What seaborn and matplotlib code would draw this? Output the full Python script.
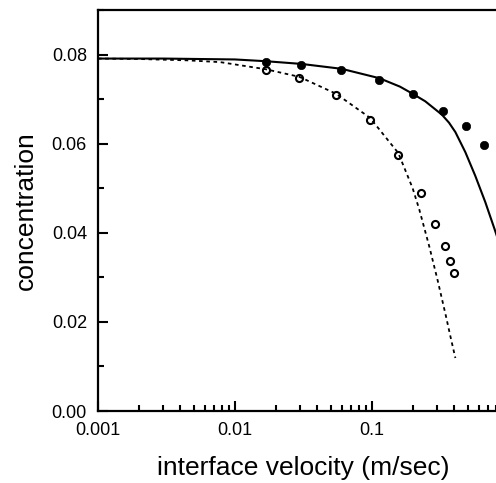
import matplotlib
matplotlib.use("Agg")
import matplotlib.pyplot as plt
from matplotlib.ticker import LogLocator, MultipleLocator, FixedFormatter, FixedLocator
import seaborn as sns
import pandas as pd

# measured points (filled = first series, open = second series)
v_filled = [0.0169, 0.0305, 0.0594, 0.113, 0.198, 0.331, 0.485, 0.653]
c_filled = [0.0784, 0.0776, 0.0765, 0.0744, 0.0712, 0.0674, 0.0639, 0.0597]

v_open = [0.0168, 0.0291, 0.0542, 0.0967, 0.1556, 0.2264, 0.290, 0.339, 0.371, 0.397]
c_open = [0.0765, 0.0747, 0.0710, 0.0653, 0.0575, 0.0490, 0.0419, 0.0370, 0.0336, 0.0310]

# model curves
v_solid = [0.001, 0.003, 0.01, 0.0169, 0.0305, 0.06, 0.113, 0.16, 0.198, 0.245, 0.324,
           0.365, 0.406, 0.480, 0.567, 0.671, 0.785, 0.925]
c_solid = [0.0791, 0.0791, 0.0789, 0.0785, 0.0779, 0.0768, 0.0747, 0.0728, 0.0712, 0.0695, 0.0665,
           0.0647, 0.0626, 0.0581, 0.0528, 0.0469, 0.0408, 0.0342]

v_dash = [0.001, 0.002, 0.0045, 0.0078, 0.0168, 0.0295, 0.0547, 0.0967, 0.1556, 0.198,
          0.2215, 0.262, 0.301, 0.347, 0.377, 0.406]
c_dash = [0.0791, 0.0790, 0.0787, 0.0783, 0.0767, 0.0750, 0.0712, 0.0658, 0.0579, 0.0500,
          0.0452, 0.0369, 0.0294, 0.0212, 0.0162, 0.0119]

sns.set_style("ticks")
plt.rcParams['font.family'] = ['Liberation Sans', 'DejaVu Sans']
plt.rcParams['text.color'] = 'black'
plt.rcParams['axes.labelcolor'] = 'black'

fig = plt.figure(figsize=(4.96, 4.83), dpi=100)
ax = fig.add_axes([98 / 496, 72 / 483, 411 / 496, 401 / 483])

solid = pd.DataFrame({"v": v_solid, "c": c_solid})
dash = pd.DataFrame({"v": v_dash, "c": c_dash})
filled = pd.DataFrame({"v": v_filled, "c": c_filled})
opn = pd.DataFrame({"v": v_open, "c": c_open})

sns.lineplot(data=solid, x="v", y="c", ax=ax, color="black", lw=1.5, sort=True)
sns.lineplot(data=dash, x="v", y="c", ax=ax, color="black", lw=1.3, sort=True,
             linestyle=(0, (2, 2)))
sns.scatterplot(data=filled, x="v", y="c", ax=ax, color="black", s=36,
                edgecolor="black", linewidth=0.5)
sns.scatterplot(data=opn, x="v", y="c", ax=ax, facecolor="white", s=26,
                edgecolor="black", linewidth=1.5)

ax.set_xscale("log")
ax.set_xlim(0.001, 1)
ax.set_ylim(0, 0.09)

ax.xaxis.set_major_locator(FixedLocator([0.001, 0.01, 0.1, 1]))
ax.xaxis.set_major_formatter(FixedFormatter(["0.001", "0.01", "0.1", ""]))
ax.xaxis.set_minor_locator(LogLocator(base=10, subs=range(2, 10)))
ax.yaxis.set_major_locator(MultipleLocator(0.02))
ax.yaxis.set_minor_locator(MultipleLocator(0.01))
ax.yaxis.set_major_formatter(plt.FuncFormatter(lambda y, p: f"{y:.2f}"))

ax.tick_params(which="both", direction="in", width=1.5, labelsize=13, pad=8,
               color="black", labelcolor="black")
ax.tick_params(which="major", length=7)
ax.tick_params(which="minor", length=4.3)
for s in ax.spines.values():
    s.set_linewidth(1.6)
    s.set_color("black")

ax.set_xlabel("interface velocity (m/sec)", fontsize=19, labelpad=12)
ax.set_ylabel("concentration", fontsize=19, labelpad=10)

fig.savefig("out.png", dpi=100)
